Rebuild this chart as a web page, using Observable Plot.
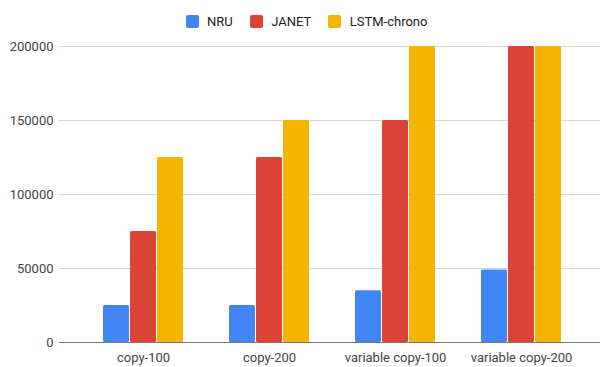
<!DOCTYPE html>
<html>
<head>
<meta charset="utf-8">
<script src="https://cdn.jsdelivr.net/npm/d3@7"></script>
<script src="https://cdn.jsdelivr.net/npm/@observablehq/plot@0.6"></script>
<style>
  html, body { margin: 0; padding: 0; background: #fff; }
  #chart { width: 600px; font-family: Roboto, "Noto Sans", sans-serif; }
  .legend {
    display: flex; justify-content: center; align-items: center;
    height: 30px; box-sizing: border-box; padding-top: 12px; padding-left: 13px;
    font-size: 13px; color: #222; line-height: 13px;
  }
  .legend .item { display: flex; align-items: center; margin: 0 8.5px; }
  .legend .sw { width: 13px; height: 13px; border-radius: 2px; margin-right: 8.5px; }
  svg { display: block; }
</style>
</head>
<body>
<div id="chart"></div>
<script>
// Task groups on the x axis
const categories = ["copy-100", "copy-200", "variable copy-100", "variable copy-200"];
// Models compared within each group
const series = ["NRU", "JANET", "LSTM-chrono"];
// Values per model, in category order
const nruValues = [25000, 25000, 35000, 49000];
const janetValues = [75000, 125000, 150000, 200000];
const lstmChronoValues = [125000, 150000, 200000, 200000];
// Y axis ticks
const yTicks = [0, 50000, 100000, 150000, 200000];
const palette = ["#4285F4", "#DB4437", "#F4B400"];

const valuesBySeries = [nruValues, janetValues, lstmChronoValues];
const rows = [];
categories.forEach((category, i) => {
  series.forEach((name, j) => {
    rows.push({category, series: name, value: valuesBySeries[j][i]});
  });
});

// Each group panel is 126px wide; rules reach past it so they span the whole frame
const ruleExtend = {insetLeft: -21, insetRight: -16};

const chart = Plot.plot({
  width: 600,
  height: 337,
  marginTop: 16,
  marginBottom: 25,
  marginLeft: 59,
  marginRight: 0,
  style: {fontFamily: "Roboto, 'Noto Sans', sans-serif", fontSize: "13px", color: "#444", background: "white"},
  fx: {domain: categories, range: [80, 584], paddingInner: 0, paddingOuter: 0, label: null},
  x: {domain: series, paddingInner: 0.04, paddingOuter: 0.8, axis: null},
  y: {domain: [0, 200000], label: null},
  color: {domain: series, range: palette},
  marks: [
    Plot.ruleY(yTicks.filter(d => d > 0), {stroke: "#d6d6d6", strokeWidth: 1, ...ruleExtend}),
    Plot.barY(rows, {fx: "category", x: "series", y: "value", fill: "series", rx: 1.5}),
    Plot.ruleY([0], {stroke: "#777", strokeWidth: 1, shapeRendering: "crispEdges", ...ruleExtend}),
    Plot.axisY(yTicks, {tickSize: 0, tickPadding: 27, tickFormat: d => String(d), label: null}),
    Plot.axisFx({anchor: "bottom", tickSize: 0, tickPadding: 10, label: null})
  ]
});

// Legend built from the same series and colour scale
const color = chart.scale("color");
const legend = document.createElement("div");
legend.className = "legend";
series.forEach((name, i) => {
  const item = document.createElement("div");
  item.className = "item";
  const sw = document.createElement("span");
  sw.className = "sw";
  sw.style.background = color.range[i];
  const label = document.createElement("span");
  label.textContent = name;
  item.append(sw, label);
  legend.append(item);
});

const root = document.getElementById("chart");
root.append(legend, chart);
</script>
</body>
</html>
